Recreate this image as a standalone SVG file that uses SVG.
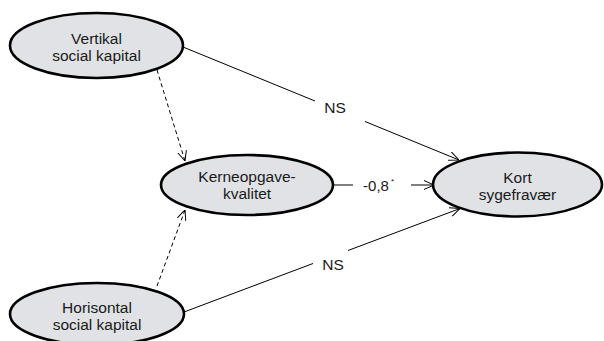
<svg xmlns="http://www.w3.org/2000/svg" width="604" height="341" viewBox="0 0 604 341">
  <defs>
    <style>
      .node ellipse { fill: #e0e2e5; stroke: #000; stroke-width: 2.6; }
      .node text, .lbl { font-family: "Liberation Sans", Arial, sans-serif; font-size: 15.5px; fill: #1a1a1a; text-anchor: middle; }
      .edge { stroke: #000; stroke-width: 1; fill: none; }
      .dash { stroke-dasharray: 4 3; }
    </style>
    <marker id="arrow" viewBox="0 0 10 10" refX="10" refY="5" markerWidth="10" markerHeight="10" markerUnits="userSpaceOnUse" orient="auto">
      <path d="M0,0.5 L10,5 L0,9.5" fill="none" stroke="#000" stroke-width="1"/>
    </marker>
  </defs>
  <rect width="604" height="341" fill="#fff"/>

  <g id="connectors">
    <!-- Vertikal -> Kort (NS) -->
    <line class="edge" x1="183" y1="47" x2="315" y2="101"/>
    <line class="edge" x1="365" y1="121.5" x2="459" y2="160" marker-end="url(#arrow)"/>
    <text class="lbl" x="335" y="113">NS</text>
    <!-- Horisontal -> Kort (NS) -->
    <line class="edge" x1="184" y1="312" x2="313" y2="263.5"/>
    <line class="edge" x1="348" y1="250.5" x2="460" y2="208.5" marker-end="url(#arrow)"/>
    <text class="lbl" x="333" y="270">NS</text>
    <!-- Kerneopgavekvalitet -> Kort -->
    <line class="edge" x1="333" y1="185" x2="353" y2="185"/>
    <line class="edge" x1="411" y1="185" x2="434" y2="185" marker-end="url(#arrow)"/>
    <text class="lbl" x="376" y="191" style="font-size:15px">-0,8</text>
    <text class="lbl" x="392.5" y="184" style="font-size:8px">*</text>
    <!-- dashed paths to Kerneopgavekvalitet -->
    <line class="edge dash" x1="157" y1="70" x2="185" y2="161" marker-end="url(#arrow)"/>
    <line class="edge dash" x1="157" y1="286" x2="185" y2="210" marker-end="url(#arrow)"/>
  </g>

  <g id="vertikal" class="node">
    <ellipse cx="96.5" cy="45.5" rx="86.5" ry="32.5"/>
    <text x="96.5" y="44">Vertikal</text>
    <text x="96.5" y="61">social kapital</text>
  </g>

  <g id="kerneopgave" class="node">
    <ellipse cx="247" cy="185" rx="86" ry="30"/>
    <text x="247" y="182">Kerneopgave-</text>
    <text x="247" y="199">kvalitet</text>
  </g>

  <g id="kort" class="node">
    <ellipse cx="517.5" cy="184.5" rx="84.5" ry="32"/>
    <text x="517.5" y="183">Kort</text>
    <text x="517.5" y="200">sygefravær</text>
  </g>

  <g id="horisontal" class="node">
    <ellipse cx="97" cy="314" rx="87" ry="31"/>
    <text x="97" y="313">Horisontal</text>
    <text x="97" y="330">social kapital</text>
  </g>
</svg>
